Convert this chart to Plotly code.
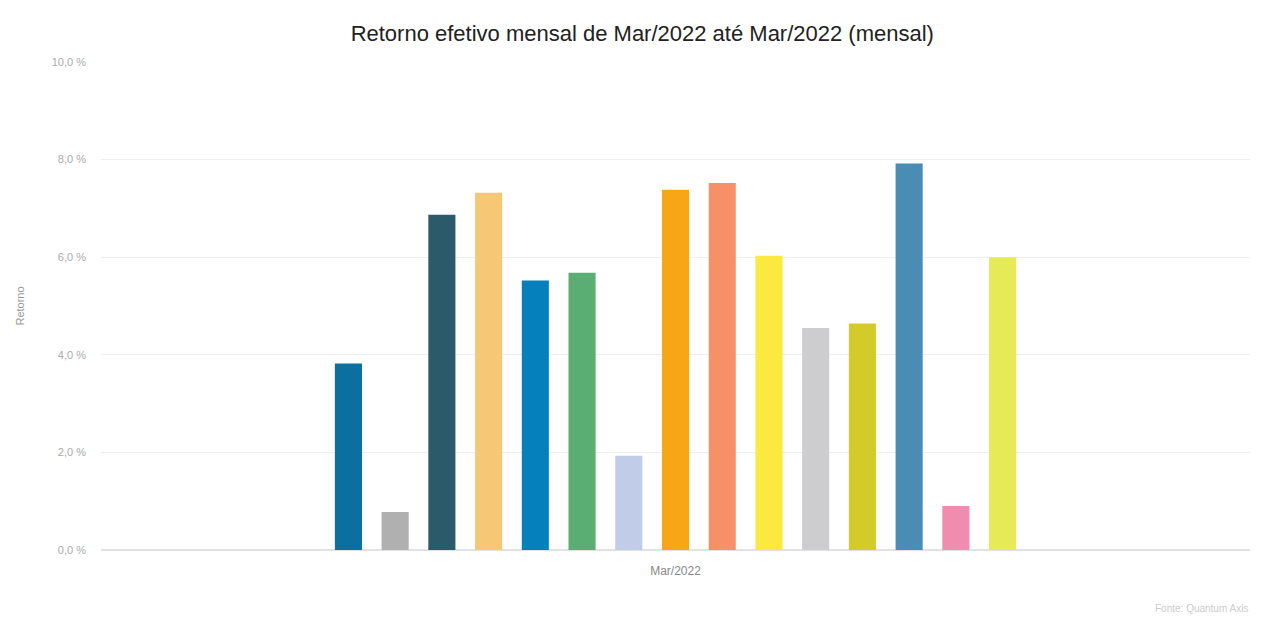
import plotly.graph_objects as go

period = ["Mar/2022"]
series_names = [f"Série {i}" for i in range(1, 16)]
values = [3.82, 0.78, 6.87, 7.32, 5.52, 5.68, 1.93, 7.38, 7.52, 6.03, 4.55, 4.64, 7.92, 0.9, 6.0]
colors = ["#0b6fa0", "#b0b0b0", "#2b5a6b", "#f6c875", "#0580bd", "#5aae73", "#c0cce8",
          "#f9a616", "#f78f68", "#fbe93f", "#cdcdd0", "#d3cb2a", "#4a8db4", "#f08cae", "#e6ea56"]
tick_vals = [0, 2, 4, 6, 8, 10]
tick_text = ["0,0 %", "2,0 %", "4,0 %", "6,0 %", "8,0 %", "10,0 %"]

fig = go.Figure()
for name, v, c in zip(series_names, values, colors):
    fig.add_trace(go.Bar(x=period, y=[v], name=name, marker_color=c,
                         marker_line_width=0, showlegend=False))

fig.update_layout(
    width=1261, height=622,
    paper_bgcolor="white", plot_bgcolor="white",
    margin=dict(l=87, r=19, t=54, b=80),
    barmode="group", bargap=0.39, bargroupgap=0.42,
    font=dict(family="Liberation Sans, Arial, sans-serif"),
    title=dict(text="Retorno efetivo mensal de Mar/2022 até Mar/2022 (mensal)",
               x=0.503, xanchor="center", y=0.96, yanchor="middle",
               font=dict(size=22, color="#222222")),
    xaxis=dict(showgrid=False, showline=False, tickfont=dict(size=12, color="#888888"),
               ticks="", ticklabelstandoff=12),
    yaxis=dict(range=[0, 10], tickvals=tick_vals, ticktext=tick_text,
               tickfont=dict(size=11, color="#aaaaaa"), showgrid=True,
               gridcolor="#eeeeee", zeroline=True, zerolinecolor="#e2e2e2",
               ticklabelstandoff=14,
               title=dict(text="Retorno", font=dict(size=11, color="#999999"), standoff=24)),
    annotations=[dict(text="Fonte: Quantum Axis", xref="paper", yref="paper",
                      x=1.0, y=-0.12, xanchor="right", yanchor="middle", showarrow=False,
                      font=dict(size=10, color="#cccccc"))],
)

fig.write_html("out.html")
